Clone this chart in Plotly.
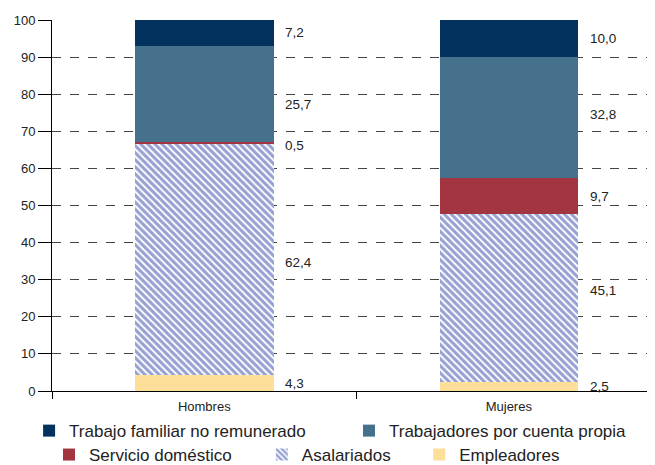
import plotly.graph_objects as go

grupos = ["Hombres", "Mujeres"]

# de abajo hacia arriba en la pila
series = ["Empleadores", "Asalariados", "Servicio doméstico",
          "Trabajadores por cuenta propia", "Trabajo familiar no remunerado"]
empleadores = [4.3, 2.5]
asalariados = [62.4, 45.1]
servicio = [0.5, 9.7]
cuenta_propia = [25.7, 32.8]
familiar = [7.2, 10.0]

valores = [empleadores, asalariados, servicio, cuenta_propia, familiar]
colores = ["#FDDF9A", "#2D43A6", "#A33541", "#46718C", "#04325F"]

# cada entrada de leyenda en su propio cuadro para imitar la disposición 2 + 3
leyendas = ["legend5", "legend4", "legend3", "legend2", "legend"]
pos_leyenda = {
    "legend": (-0.038, -0.108),
    "legend2": (0.4925, -0.108),
    "legend3": (-0.005, -0.1725),
    "legend4": (0.348, -0.1725),
    "legend5": (0.609, -0.1725),
}

fig = go.Figure()
for nombre, vals, col, ley in zip(series, valores, colores, leyendas):
    if nombre == "Asalariados":
        marker = dict(color="white",
                      pattern=dict(shape="\\", fgcolor=col, bgcolor="white",
                                   size=5, solidity=0.62, fillmode="overlay"),
                      line=dict(width=0))
    else:
        marker = dict(color=col, line=dict(width=0))
    fig.add_trace(go.Bar(x=grupos, y=vals, name=nombre, marker=marker,
                         width=0.455, legend=ley))

# etiquetas a la derecha de cada segmento
desplaz = {("Hombres", "Trabajadores por cuenta propia"): -10,
           ("Hombres", "Servicio doméstico"): -3,
           ("Hombres", "Asalariados"): -3,
           ("Mujeres", "Asalariados"): 8,
           ("Mujeres", "Trabajadores por cuenta propia"): 3}
for i, g in enumerate(grupos):
    base = 0
    for nombre, vals in zip(series, valores):
        v = vals[i]
        fig.add_annotation(x=i + 0.26, y=base + v / 2, xref="x", yref="y",
                           text=f"{v:.1f}".replace(".", ","), showarrow=False,
                           xanchor="left", yanchor="middle",
                           yshift=desplaz.get((g, nombre), 0),
                           font=dict(size=13.5, color="#222"))
        base += v

leg_common = dict(orientation="h", xanchor="left", yanchor="middle",
                  font=dict(size=17), itemwidth=30, bgcolor="rgba(0,0,0,0)")
fig.update_layout(
    barmode="stack",
    width=655, height=465,
    # la página añade 8 px de margen al cuerpo
    margin=dict(l=44, r=8, t=12, b=82, autoexpand=False),
    paper_bgcolor="white", plot_bgcolor="white",
    font=dict(family="Liberation Sans, Arial, sans-serif", color="#222"),
    showlegend=True,
    **{k: dict(x=x, y=y, **leg_common) for k, (x, y) in pos_leyenda.items()},
)
fig.update_xaxes(range=[-0.5, 1.48], showline=True, linecolor="black", linewidth=1,
                 ticks="outside", tickson="boundaries", ticklen=7, tickcolor="black",
                 tickfont=dict(size=13), ticklabelstandoff=3, showgrid=False)
fig.update_yaxes(range=[0, 100], dtick=10, showline=True, linecolor="black", linewidth=1,
                 ticks="outside", ticklen=13, tickcolor="black", tickfont=dict(size=13),
                 showgrid=True, gridcolor="#444", griddash="dash", gridwidth=1,
                 zeroline=False)

fig.write_html("out.html")
